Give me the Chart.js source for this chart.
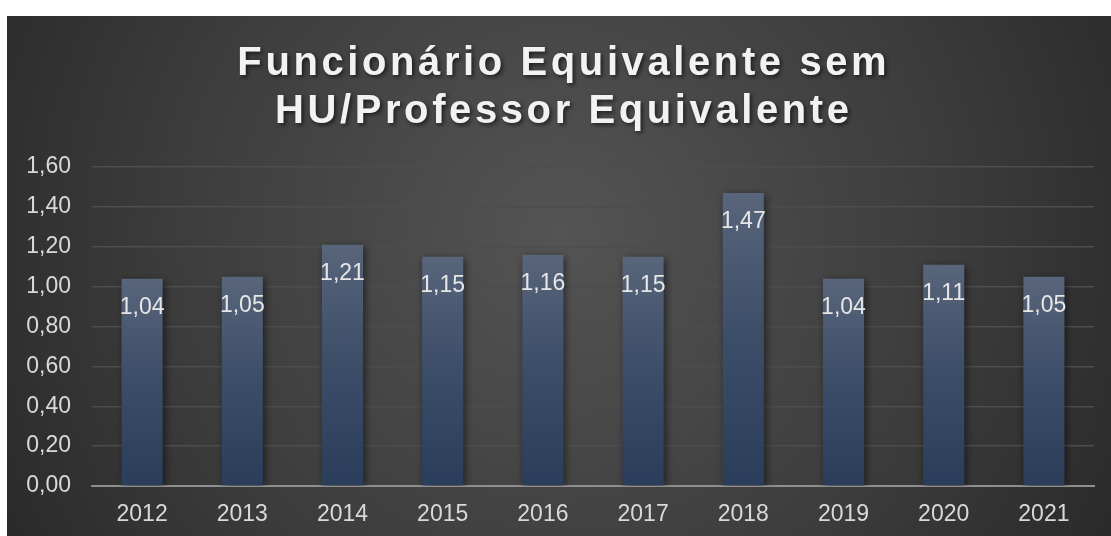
<!DOCTYPE html>
<html>
<head>
<meta charset="utf-8">
<script src="https://cdn.jsdelivr.net/npm/chart.js@4/dist/chart.umd.min.js"></script>
<style>
  html, body { margin: 0; padding: 0; background: #fff; }
  #caixa { position: absolute; left: 7px; top: 16px; width: 1104px; height: 520px; }
</style>
</head>
<body>
<div id="caixa"><canvas id="grafico"></canvas></div>
<script>
// ================== DADOS ==================
const anos = ['2012', '2013', '2014', '2015', '2016', '2017', '2018', '2019', '2020', '2021'];
const valores = [1.04, 1.05, 1.21, 1.15, 1.16, 1.15, 1.47, 1.04, 1.11, 1.05];
const titulo = ['Funcionário Equivalente sem', 'HU/Professor Equivalente'];

// formata com virgula, estilo pt-BR
function fmt(v) {
    return v.toFixed(2).replace('.', ',');
}

// Fundo escuro com gradiente radial + titulo
const pluginFundo = {
    id: 'fundo',
    beforeDraw: function (chart) {
        const ctx = chart.ctx;
        const w = chart.width, h = chart.height;
        ctx.save();
        const g = ctx.createRadialGradient(w * 0.5, h * 0.42, 0, w * 0.5, h * 0.42, w * 0.62);
        g.addColorStop(0, '#545454');
        g.addColorStop(0.55, '#3d3d3d');
        g.addColorStop(1, '#262626');
        ctx.fillStyle = g;
        ctx.fillRect(0, 0, w, h);

        // titulo em duas linhas
        ctx.font = 'bold 40px Arial, "Liberation Sans", sans-serif';
        ctx.letterSpacing = '3.6px';
        ctx.textAlign = 'left';
        ctx.textBaseline = 'alphabetic';
        ctx.fillStyle = '#f2f2f2';
        ctx.shadowColor = 'rgba(0,0,0,0.6)';
        ctx.shadowBlur = 4;
        ctx.shadowOffsetX = 2;
        ctx.shadowOffsetY = 2;
        const linhasY = [59, 107];
        titulo.forEach(function (t, i) {
            const larg = ctx.measureText(t).width - 3.6;
            ctx.fillText(t, 555 - larg / 2, linhasY[i]);
        });
        ctx.restore();
    }
};

// Sombra das barras
const pluginSombra = {
    id: 'sombra',
    beforeDatasetsDraw: function (chart) {
        const ctx = chart.ctx;
        ctx.save();
        ctx.shadowColor = 'rgba(0,0,0,0.55)';
        ctx.shadowBlur = 8;
        ctx.shadowOffsetX = 2;
        ctx.shadowOffsetY = 2;
    },
    afterDatasetsDraw: function (chart) {
        chart.ctx.restore();
        // rotulos dentro do topo das barras
        const ctx = chart.ctx;
        ctx.save();
        ctx.font = '23px Arial, "Liberation Sans", sans-serif';
        ctx.fillStyle = '#e6e6e6';
        ctx.textAlign = 'center';
        ctx.textBaseline = 'middle';
        chart.getDatasetMeta(0).data.forEach(function (bar, i) {
            ctx.fillText(fmt(valores[i]), bar.x, bar.y + 29);
        });
        ctx.restore();
    }
};

function corBarra(context) {
    const chart = context.chart;
    const y = chart.scales && chart.scales.y;
    if (!y || !chart.chartArea || context.raw === undefined) return '#3b4d68';
    const topo = y.getPixelForValue(context.raw);
    const base = y.getPixelForValue(0);
    const g = chart.ctx.createLinearGradient(0, topo, 0, base);
    g.addColorStop(0, '#58657b');
    g.addColorStop(0.5, '#3c4d68');
    g.addColorStop(1, '#2a3d5a');
    return g;
}

const fonteEixo = { family: 'Arial, "Liberation Sans", sans-serif', size: 23 };

const config = {
    type: 'bar',
    data: {
        labels: anos,
        datasets: [{
            data: valores,
            backgroundColor: corBarra,
            borderWidth: 0,
            barPercentage: 0.41,
            categoryPercentage: 1
        }]
    },
    options: {
        responsive: true,
        maintainAspectRatio: false,
        animation: false,
        layout: { padding: { top: 151, right: 17, bottom: 0, left: 0 } },
        plugins: {
            legend: { display: false },
            title: { display: false },
            tooltip: { enabled: false }
        },
        scales: {
            x: {
                grid: { display: false, drawTicks: false },
                border: { display: true, color: '#8f8f8f', width: 2 },
                ticks: { color: '#d9d9d9', padding: 15, font: fonteEixo },
                afterFit: function (scale) { scale.height = 50; }
            },
            y: {
                min: 0,
                max: 1.6,
                ticks: {
                    stepSize: 0.2,
                    color: '#d9d9d9',
                    padding: 21,
                    font: fonteEixo,
                    callback: function (v) { return fmt(v); }
                },
                grid: {
                    drawTicks: false,
                    color: function (c) { return c.tick && c.tick.value === 0 ? 'rgba(0,0,0,0)' : '#4d4d4d'; },
                    lineWidth: 1.5
                },
                border: { display: false },
                afterFit: function (scale) { scale.width = 85; }
            }
        }
    },
    plugins: [pluginFundo, pluginSombra]
};

window.onload = function () {
    new Chart(document.getElementById('grafico'), config);
};
</script>
</body>
</html>
